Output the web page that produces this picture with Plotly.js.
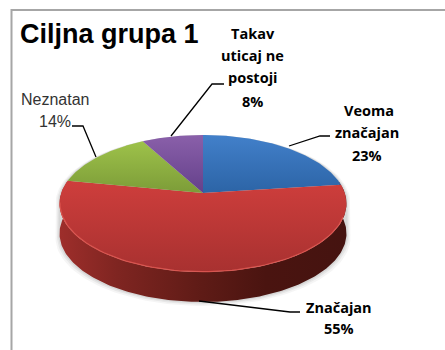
<!DOCTYPE html>
<html><head><meta charset="utf-8">
<script src="https://cdn.plot.ly/plotly-3.0.1.min.js"></script>
<style>html,body{margin:0;padding:0;background:#fff}#c{width:445px;height:350px}</style>
</head><body><div id="c"></div>
<script>
const categories = ["Veoma značajan","Značajan","Neznatan","Takav uticaj ne postoji"];
const values = [23,55,14,8];
const topColors = [
  [[0,"#2c64a6"],[1,"#4280ca"]],
  [[0,"#a83130"],[1,"#ce3e3c"]],
  [[0,"#7c9c38"],[1,"#9ec24a"]],
  [[0,"#64408a"],[1,"#8a60aa"]]
];
const cx=203, cy=193, a=141.8, b=66.9, k=0.153, depth=30;
function proj(deg, r){
  const t=deg*Math.PI/180, u=r*Math.sin(t), v=r*Math.cos(t), d=1+k*v;
  return [cx+a*u/d, cy-b*v/d];
}
const traces=[];
// soft shadow
[[4,0.05],[2.5,0.07],[1.2,0.09]].forEach(([g,op])=>{
  const xs=[],ys=[];
  for(let i=0;i<=180;i++){const p=proj(i*2,1);xs.push(p[0]+(p[0]-cx)/143*g);ys.push(p[1]+(p[1]>200?depth+g:0));}
  traces.push({type:"scatter",mode:"lines",x:xs,y:ys,fill:"toself",line:{width:0},fillcolor:`rgba(60,60,60,${op})`,hoverinfo:"skip"});
});
// side wall of the front half
{
  const xs=[],ys=[];
  const front=[];
  for(let d=80;d<=280;d+=1)front.push(proj(d,1));
  front.forEach(p=>{xs.push(p[0]);ys.push(p[1]);});
  front.slice().reverse().forEach(p=>{xs.push(p[0]);ys.push(p[1]+depth);});
  traces.push({type:"scatter",mode:"lines",x:xs,y:ys,fill:"toself",line:{width:0},
    fillgradient:{type:"horizontal",colorscale:[[0,"#9e2e2b"],[0.2,"#7f2521"],[0.5,"#5e1b16"],[0.72,"#4a1410"],[1,"#451310"]]},hoverinfo:"skip"});
}
// top slices, from the values
let start=0;
values.forEach((val,i)=>{
  const sweep=val/100*360, xs=[cx], ys=[cy];
  for(let j=0;j<=100;j++){const p=proj(start+sweep*j/100,1);xs.push(p[0]);ys.push(p[1]);}
  xs.push(cx);ys.push(cy);
  traces.push({type:"scatter",mode:"lines",name:categories[i],x:xs,y:ys,fill:"toself",line:{width:0},
    fillgradient:{type:"vertical",colorscale:topColors[i]},hoverinfo:"name"});
  start+=sweep;
});
// light rim along the red slice's front edge
{
  const xs=[],ys=[];
  for(let d=110;d<=262;d+=2){const p=proj(d,0.997);xs.push(p[0]);ys.push(p[1]);}
  traces.push({type:"scatter",mode:"lines",x:xs,y:ys,line:{width:1.2,color:"rgba(226,90,84,0.8)"},hoverinfo:"skip"});
}
const narrow="'Liberation Sans',Arial,sans-serif";
const lbl="'Open Sans','DejaVu Sans',sans-serif";
function note(x,y,text,size,font,color){return {x,y,text,xref:"x",yref:"y",showarrow:false,align:"center",xanchor:"center",yanchor:"middle",font:{size,family:font,color:color||"#000"}};}
const annotations=[
  note(109,34,"<b>Ciljna grupa 1</b>",27,narrow),
  note(253,33,"<b>Takav</b>",14.5,lbl),
  note(252,55,"<b>uticaj ne</b>",14.5,lbl),
  note(252,77,"<b>postoji</b>",14.5,lbl),
  note(252,101,"<b>8%</b>",14.5,lbl),
  note(369,110,"<b>Veoma</b>",14.5,lbl),
  note(367,132,"<b>značajan</b>",14.5,lbl),
  note(367,155,"<b>23%</b>",14.5,lbl),
  note(339,307,"<b>Značajan</b>",14.5,lbl),
  note(339,328,"<b>55%</b>",14.5,lbl),
  note(55,99,"Neznatan",16,narrow,"#333"),
  note(55,121,"14%",16,narrow,"#333")
];
function path(pts){return {type:"path",xref:"x",yref:"y",line:{color:"#000",width:1.3},path:"M"+pts.map(p=>p.join(",")).join("L")};}
const shapes=[
  {type:"path",xref:"x",yref:"y",line:{color:"#a6a6a6",width:2},path:"M445,10L11.5,10L11.5,350"},
  path([[171,136],[212,84],[224,84]]),
  path([[96,157],[83,126],[72,126]]),
  path([[289,146],[320,136],[330,136]]),
  path([[199,301],[290,312],[300,312]])
];
const layout={width:445,height:350,margin:{l:0,r:0,t:0,b:0},showlegend:false,paper_bgcolor:"#fff",plot_bgcolor:"#fff",
  xaxis:{range:[0,445],visible:false,fixedrange:true},
  yaxis:{range:[350,0],visible:false,fixedrange:true},
  annotations,shapes};
Plotly.newPlot("c",traces,layout,{displayModeBar:false,staticPlot:true});
</script></body></html>
